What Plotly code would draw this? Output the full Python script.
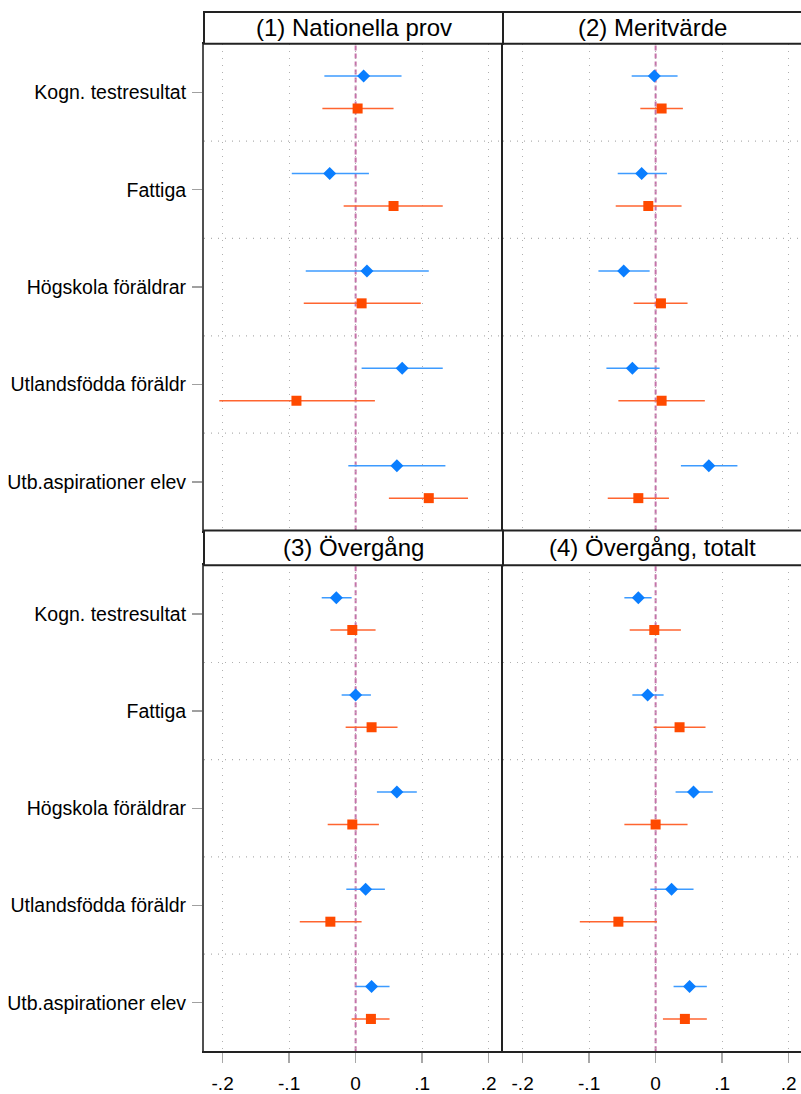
import plotly.graph_objects as go

categories = ["Kogn. testresultat", "Fattiga", "Högskola föräldrar",
              "Utlandsfödda föräldr", "Utb.aspirationer elev"]
panel_titles = ["(1) Nationella prov", "(2) Meritvärde",
                "(3) Övergång", "(4) Övergång, totalt"]
tick_vals = [-0.2, -0.1, 0, 0.1, 0.2]
tick_text = ["-.2", "-.1", "0", ".1", ".2"]

# (1) Nationella prov
p1_blue = [0.012, -0.039, 0.017, 0.070, 0.062]
p1_blue_lo = [-0.047, -0.096, -0.075, 0.009, -0.011]
p1_blue_hi = [0.069, 0.020, 0.110, 0.131, 0.135]
p1_orange = [0.003, 0.057, 0.009, -0.089, 0.110]
p1_orange_lo = [-0.050, -0.018, -0.078, -0.205, 0.050]
p1_orange_hi = [0.057, 0.131, 0.098, 0.029, 0.169]

# (2) Meritvärde
p2_blue = [-0.002, -0.021, -0.048, -0.035, 0.080]
p2_blue_lo = [-0.036, -0.057, -0.086, -0.074, 0.038]
p2_blue_hi = [0.033, 0.017, -0.009, 0.006, 0.123]
p2_orange = [0.009, -0.011, 0.008, 0.009, -0.026]
p2_orange_lo = [-0.023, -0.060, -0.033, -0.056, -0.072]
p2_orange_hi = [0.041, 0.039, 0.048, 0.074, 0.020]

# (3) Övergång
p3_blue = [-0.029, 0.000, 0.062, 0.015, 0.024]
p3_blue_lo = [-0.051, -0.021, 0.032, -0.014, 0.000]
p3_blue_hi = [-0.006, 0.023, 0.092, 0.044, 0.051]
p3_orange = [-0.005, 0.024, -0.005, -0.038, 0.023]
p3_orange_lo = [-0.038, -0.015, -0.042, -0.084, -0.006]
p3_orange_hi = [0.030, 0.063, 0.035, 0.009, 0.051]

# (4) Övergång, totalt
p4_blue = [-0.026, -0.012, 0.057, 0.024, 0.051]
p4_blue_lo = [-0.047, -0.035, 0.030, -0.008, 0.027]
p4_blue_hi = [-0.006, 0.012, 0.086, 0.057, 0.077]
p4_orange = [-0.002, 0.036, 0.000, -0.056, 0.044]
p4_orange_lo = [-0.039, -0.003, -0.047, -0.114, 0.011]
p4_orange_hi = [0.038, 0.075, 0.048, 0.002, 0.077]

panels = [
    (p1_blue, p1_blue_lo, p1_blue_hi, p1_orange, p1_orange_lo, p1_orange_hi),
    (p2_blue, p2_blue_lo, p2_blue_hi, p2_orange, p2_orange_lo, p2_orange_hi),
    (p3_blue, p3_blue_lo, p3_blue_hi, p3_orange, p3_orange_lo, p3_orange_hi),
    (p4_blue, p4_blue_lo, p4_blue_hi, p4_orange, p4_orange_lo, p4_orange_hi),
]

W, H = 801, 1094
FONT = "Liberation Sans, Arial, Helvetica, sans-serif"
BLUE = "#0A7EFF"
BLUE_LINE = "#3D9BFF"
ORANGE = "#FF4A00"
ORANGE_LINE = "#FF6530"
PINK = "#C472A8"
GRID = "#B0B0B0"
FRAME = "#222222"
LEFT_LINE = "#505050"

def px_x(p):
    return p / W

def px_y(p):
    return 1 - p / H

x_dom = [[px_x(204), px_x(503)], [px_x(503), 1.0]]
y_dom = [[px_y(535), px_y(44)], [px_y(1060), px_y(570)]]
x_rng = [[-0.228, 0.2216], [-0.2295, 0.2186]]
title_bands = [(12, 44), (535, 570)]
band_x = [[px_x(204), px_x(503)], [px_x(503), 1.02]]

fig = go.Figure()
n = len(categories)
ypos_c = [i + 0.5 for i in range(n)]
ypos_b = [i + 1 / 3 for i in range(n)]
ypos_o = [i + 2 / 3 for i in range(n)]

for k, (b, blo, bhi, o, olo, ohi) in enumerate(panels):
    suf = "" if k == 0 else str(k + 1)
    xa, ya = "x" + suf, "y" + suf
    fig.add_trace(go.Scatter(
        x=b, y=ypos_b, mode="markers", xaxis=xa, yaxis=ya,
        marker=dict(symbol="diamond", size=10, color=BLUE),
        error_x=dict(type="data", symmetric=False,
                     array=[h - v for h, v in zip(bhi, b)],
                     arrayminus=[v - l for v, l in zip(b, blo)],
                     width=0, thickness=1.5, color=BLUE_LINE),
        showlegend=False, hoverinfo="skip"))
    fig.add_trace(go.Scatter(
        x=o, y=ypos_o, mode="markers", xaxis=xa, yaxis=ya,
        marker=dict(symbol="square", size=10, color=ORANGE),
        error_x=dict(type="data", symmetric=False,
                     array=[h - v for h, v in zip(ohi, o)],
                     arrayminus=[v - l for v, l in zip(o, olo)],
                     width=0, thickness=1.5, color=ORANGE_LINE),
        showlegend=False, hoverinfo="skip"))

    col, row = k % 2, k // 2
    bottom = row == 1
    left = col == 0
    xkey = "xaxis" + suf
    ykey = "yaxis" + suf
    fig.layout[xkey] = dict(
        domain=x_dom[col], range=x_rng[col], anchor=ya,
        tickvals=tick_vals, ticktext=tick_text,
        showticklabels=bottom, ticks="outside" if bottom else "",
        ticklen=10, tickcolor="#A8A8A8", tickwidth=1.3,
        ticklabelstandoff=4,
        tickfont=dict(size=19, color="black", family=FONT),
        showgrid=True, gridcolor=GRID, griddash="1px,6px", gridwidth=1.2,
        zeroline=False, showline=True, mirror=True,
        linecolor=FRAME, linewidth=2, fixedrange=True)
    fig.layout[ykey] = dict(
        domain=y_dom[row], range=[n, 0], anchor=xa,
        tickvals=ypos_c, ticktext=categories,
        showticklabels=left, ticks="outside" if left else "",
        ticklen=10, tickcolor="#A0A0A0", tickwidth=1.3,
        ticklabelstandoff=2,
        tickfont=dict(size=19.5, color="black", family=FONT),
        showgrid=False, zeroline=False, showline=True, mirror=False,
        linecolor=LEFT_LINE if left else FRAME, linewidth=2,
        fixedrange=True)

    # zero reference line
    fig.add_shape(type="line", xref=xa, yref=ya + " domain",
                  x0=0, x1=0, y0=0, y1=1, layer="below",
                  line=dict(color=PINK, width=2, dash="5px,3px"))
    # group separators
    for g in range(1, n):
        fig.add_shape(type="line", xref=xa + " domain", yref=ya,
                      x0=0, x1=1, y0=g, y1=g, layer="below",
                      line=dict(color=GRID, width=1.2, dash="1px,6px"))

    # title band
    t0, t1 = title_bands[row]
    fig.add_shape(type="rect", xref="paper", yref="paper",
                  x0=band_x[col][0], x1=band_x[col][1],
                  y0=px_y(t1), y1=px_y(t0),
                  line=dict(color=FRAME, width=2),
                  fillcolor="white")
    fig.add_annotation(xref="paper", yref="paper",
                       x=(x_dom[col][0] + x_dom[col][1]) / 2,
                       y=(px_y(t0) + px_y(t1)) / 2,
                       text=panel_titles[k], showarrow=False,
                       xanchor="center", yanchor="middle",
                       font=dict(size=24, color="black", family=FONT))

fig.update_layout(
    width=W, height=H, margin=dict(l=0, r=0, t=0, b=0),
    paper_bgcolor="white", plot_bgcolor="white",
    font=dict(family=FONT, color="black"))

fig.write_html("out.html",
               config={"displayModeBar": False, "staticPlot": True},
               post_script="document.body.style.margin='0';"
                           "document.body.style.overflow='hidden';")
